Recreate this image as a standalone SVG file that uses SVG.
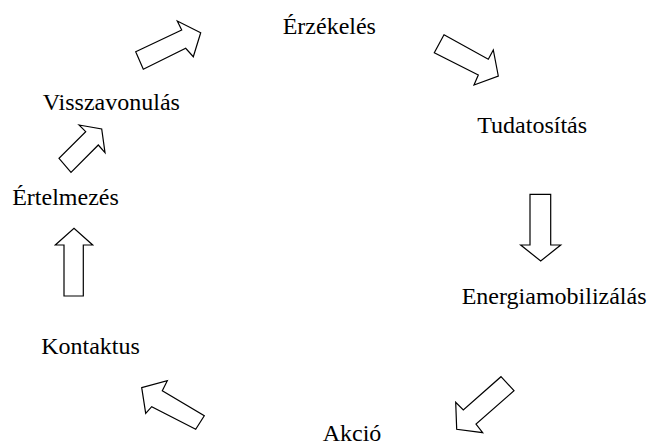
<svg xmlns="http://www.w3.org/2000/svg" width="650" height="447" viewBox="0 0 650 447">
<style>
text{font-family:'Liberation Serif','Times New Roman',Times,serif;font-size:24px;fill:#000}
.arr{fill:#fff;stroke:#000;stroke-width:1.2;stroke-linejoin:miter}
</style>
<rect width="650" height="447" fill="#fff"/>
<g id="connectors">
<polygon class="arr" points="135.7,51.7 181.7,30 177.3,21 200.7,32.7 193.3,56.7 185.7,48.3 143.3,69.3"/>
<polygon class="arr" points="444,34.7 488.3,59.3 493.3,50 498.3,76 474,85 478.3,75 434.3,52.7"/>
<polygon class="arr" points="530,194.3 550.7,194.3 550.7,245 560.7,245 540.7,261 520.7,245 530,245"/>
<polygon class="arr" points="501,376.7 514,390.7 476,424 482.7,432.7 456.7,429.3 455.7,402.3 463.3,410"/>
<polygon class="arr" points="141.7,387.7 167.3,380.7 162.3,390.7 204.3,415.7 195.7,429.3 151.7,406.7 145.7,413.3"/>
<polygon class="arr" points="64,296 83.3,296 83.3,245 92.7,245 74,228.3 55.3,245 64,245"/>
<polygon class="arr" points="79,125 101.7,129 105,152.7 98.3,145 71,172.3 59,158.3 85.7,131.7"/>
</g>
<g id="erzekeles"><text font-family="Liberation Serif, serif" x="282.7" y="34">Érzékelés</text></g>
<g id="tudatositas"><text font-family="Liberation Serif, serif" x="477.3" y="133.3">Tudatosítás</text></g>
<g id="energiamobilizalas"><text font-family="Liberation Serif, serif" x="461.7" y="304">Energiamobilizálás</text></g>
<g id="akcio"><text font-family="Liberation Serif, serif" x="352" y="441" text-anchor="middle">Akció</text></g>
<g id="kontaktus"><text font-family="Liberation Serif, serif" x="90.5" y="354" text-anchor="middle">Kontaktus</text></g>
<g id="ertelmezes"><text font-family="Liberation Serif, serif" x="65.5" y="205" text-anchor="middle">Értelmezés</text></g>
<g id="visszavonulas"><text font-family="Liberation Serif, serif" x="42.7" y="110">Visszavonulás</text></g>
</svg>
